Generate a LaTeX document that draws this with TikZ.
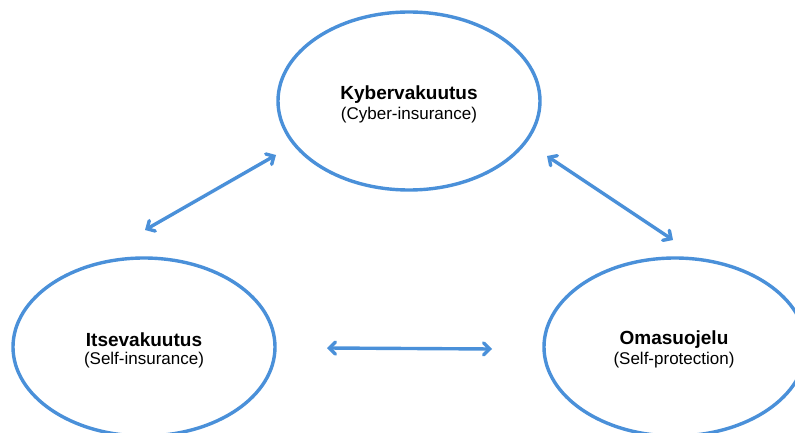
\documentclass[tikz,border=0pt]{standalone}
\usepackage{fontspec}
\setmainfont{Liberation Sans}
\usetikzlibrary{arrows.meta,shapes.geometric}
\definecolor{ringblue}{HTML}{4A90D9}
\begin{document}
\begin{tikzpicture}[x=1pt,y=-1pt,
  ring/.style={draw=ringblue,line width=3.4pt,ellipse,inner sep=0pt,minimum width=262pt,minimum height=178pt},
  link/.style={draw=ringblue,line width=3.4pt,line cap=round,
    {Straight Barb[length=6pt,width=12pt,line cap=round]}-{Straight Barb[length=6pt,width=12pt,line cap=round]}},
  title/.style={font=\fontsize{19}{21}\selectfont\bfseries},
  sub/.style={font=\fontsize{17}{19}\selectfont}]
\useasboundingbox (0,0) rectangle (795,433);
\node[ring] (top) at (409,101) {};
\node[ring] (left) at (144,347) {};
\node[ring] (right) at (675,347) {};
\node[title] (cyber) at (409,95) {Kybervakuutus};
\node[sub] (cybersub) at (409,115) {(Cyber-insurance)};
\node[title] (selfins) at (144,340) {Itsevakuutus};
\node[sub] (selfinssub) at (144,360) {(Self-insurance)};
\node[title] (selfprot) at (674,340) {Omasuojelu};
\node[sub] (selfprotsub) at (674,360) {(Self-protection)};
\coordinate (l1) at (145,230);
\coordinate (l2) at (276,155);
\coordinate (r1) at (547,156);
\coordinate (r2) at (673,240);
\coordinate (b1) at (327,348);
\coordinate (b2) at (492,349);
\draw[link] (l1) -- (l2);
\draw[link] (r1) -- (r2);
\draw[link] (b1) -- (b2);
\end{tikzpicture}
\end{document}
